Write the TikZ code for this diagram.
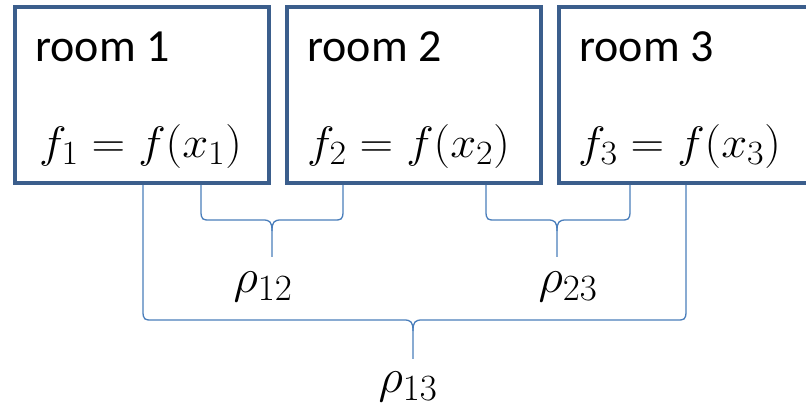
\RequirePackage{fix-cm}
\documentclass[tikz,border=0pt]{standalone}
\usepackage{graphicx}
\usepackage{fontspec}
\setmainfont{Carlito}
% larger subscripts for the big formulas
\DeclareMathSizes{44}{44}{34}{26}
\DeclareMathSizes{48}{48}{37}{28}
\definecolor{boxline}{RGB}{59,94,140}
\definecolor{braceline}{RGB}{74,126,187}
\tikzset{
  room/.style={draw=boxline, line width=4pt, fill=white, rectangle, inner sep=0pt},
  roomlabel/.style={anchor=base west, inner sep=0pt, font=\fontsize{46}{52}\selectfont},
  formula/.style={anchor=base west, inner sep=0pt, font=\fontsize{44}{52}\selectfont},
  corr/.style={anchor=base, inner sep=0pt, font=\fontsize{48}{52}\selectfont},
  bracestroke/.style={draw=braceline, line width=1.3pt, line join=round}
}
% curly brace hanging below two points: #1,#2 = end x, #3 = top y,
% #4 = y of the horizontal bar, #5 = centre x, #6 = tip y
\newcommand\hangbrace[6]{%
  \draw[bracestroke] (#1,#3) -- (#1,#4-9) .. controls (#1,#4) and (#1+2,#4) .. (#1+9,#4)
     -- (#5-9,#4) .. controls (#5-2,#4) and (#5,#4+2) .. (#5,#4+11) -- (#5,#6);
  \draw[bracestroke] (#2,#3) -- (#2,#4-9) .. controls (#2,#4) and (#2-2,#4) .. (#2-9,#4)
     -- (#5+9,#4) .. controls (#5+2,#4) and (#5,#4+2) .. (#5,#4+11);
}
\newcommand\wideformula[1]{\scalebox{1.06}[1]{$#1$}}
\begin{document}
\begin{tikzpicture}[x=1pt,y=-1pt]
  \useasboundingbox (0,0) rectangle (806,411);
  \fill[white] (0,0) rectangle (806,411);

  % the three rooms
  \node[room, minimum width=254pt, minimum height=176pt, anchor=north west] (r1) at (13,5) {};
  \node[room, minimum width=254pt, minimum height=176pt, anchor=north west] (r2) at (285,5) {};
  \node[room, minimum width=270pt, minimum height=176pt, anchor=north west] (r3) at (557,5) {};

  \node[roomlabel] (t1) at (35,62) {room 1};
  \node[roomlabel] (t2) at (307,62) {room 2};
  \node[roomlabel] (t3) at (579,62) {room 3};

  \node[formula] (m1) at (39,158) {\wideformula{f_1 = f(x_1)}};
  \node[formula] (m2) at (307,158) {\wideformula{f_2 = f(x_2)}};
  \node[formula] (m3) at (578,158) {\wideformula{f_3 = f(x_3)}};

  % correlation braces
  \hangbrace{201}{343}{185}{220}{272}{257}
  \hangbrace{486}{630}{185}{220}{557}{257}
  \hangbrace{143}{686}{185}{320}{413}{359}

  \node[corr] (p12) at (263,293) {$\rho_{12}$};
  \node[corr] (p23) at (568,293) {$\rho_{23}$};
  \node[corr] (p13) at (408,393) {$\rho_{13}$};
\end{tikzpicture}
\end{document}
